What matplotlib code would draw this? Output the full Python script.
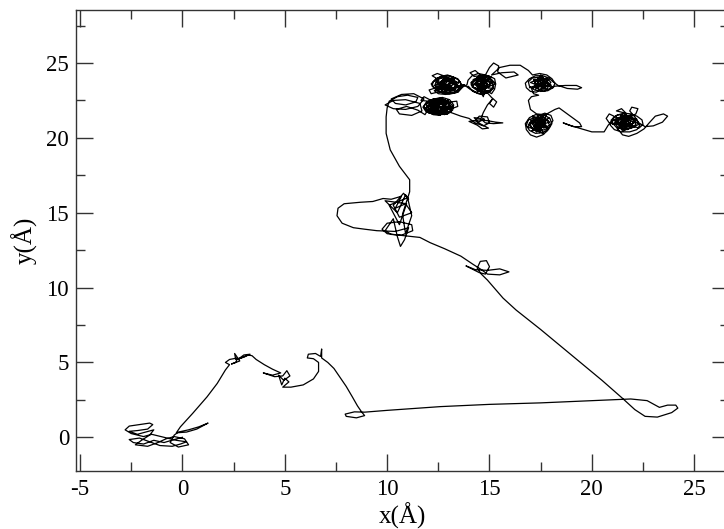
import matplotlib
matplotlib.use('Agg')
import matplotlib.pyplot as plt
from matplotlib.ticker import MultipleLocator

plt.rcParams['font.family'] = ['Liberation Serif', 'DejaVu Serif']
plt.rcParams['axes.unicode_minus'] = False

# ---- trajectory (x, y in Angstrom) ----
start_cluster = [(0.0, 0.0), (-0.4, -0.15), (-0.9, -0.35), (-1.4, -0.2), (-1.9, -0.45), (-2.4, -0.35),
                 (-2.6, -0.15), (-2.1, -0.05), (-1.6, -0.3), (-1.1, -0.55), (-0.5, -0.6), (-0.1, -0.45),
                 (0.2, -0.3), (-0.3, -0.2), (-0.9, 0.0), (-1.5, 0.2), (-1.9, 0.05), (-2.5, 0.25),
                 (-2.8, 0.5), (-2.6, 0.75), (-2.1, 0.85), (-1.6, 0.95), (-1.45, 0.85), (-1.7, 0.55),
                 (-2.2, 0.45), (-2.6, 0.4), (-2.2, 0.2), (-1.8, 0.35), (-1.4, 0.5), (-1.6, 0.15),
                 (-2.0, -0.2), (-2.3, -0.5), (-1.7, -0.6), (-1.2, -0.35), (-0.8, -0.1), (-0.4, 0.05),
                 (0.1, -0.1), (0.3, -0.5), (-0.2, -0.65), (-0.6, -0.35), (-0.4, 0.15), (-0.2, 0.35),
                 (0.3, 0.5), (0.8, 0.7), (1.25, 0.95), (0.7, 0.55), (0.2, 0.35), (-0.3, 0.3), (-0.1, 0.7)]

rise_to_peak = [(0.5, 1.6), (1.2, 2.7), (1.7, 3.6), (2.1, 4.5), (2.3, 4.85)]

peak_cluster = [(2.1, 5.0), (2.3, 5.2), (2.7, 5.3), (2.6, 5.0), (2.4, 4.9), (2.8, 5.1), (2.55, 5.6),
                (2.6, 5.2), (3.0, 5.35), (3.3, 5.55), (3.0, 5.5), (2.7, 5.2), (3.2, 5.5), (3.4, 5.45),
                (3.6, 5.2), (4.0, 4.85), (4.4, 4.55), (4.8, 4.3)]

mid_cluster = [(4.4, 4.15), (3.95, 4.3), (4.5, 4.05), (4.9, 4.1), (5.1, 4.45), (5.25, 4.1), (4.95, 3.8),
               (4.7, 4.15), (4.85, 3.5), (5.0, 3.95), (5.2, 3.7), (4.9, 3.35), (5.3, 3.35), (5.9, 3.5),
               (6.4, 3.9), (6.65, 4.4), (6.65, 5.0), (6.4, 5.25), (6.1, 5.3), (6.15, 5.55), (6.5, 5.6),
               (6.75, 5.4), (6.8, 5.9), (6.8, 5.3), (7.1, 5.0), (7.4, 4.6), (7.7, 4.0), (8.0, 3.4),
               (8.3, 2.7), (8.55, 2.1), (8.75, 1.7), (8.9, 1.45), (8.5, 1.3), (8.0, 1.4), (7.95, 1.55),
               (8.4, 1.7), (8.9, 1.68)]

long_run = [(10.0, 1.8), (12.6, 2.05), (15.0, 2.2), (17.5, 2.3), (20.0, 2.45), (21.9, 2.56), (22.7, 2.45),
            (23.3, 2.0), (23.7, 2.15), (24.1, 2.15), (24.2, 1.95), (23.9, 1.65), (23.2, 1.35), (22.6, 1.4),
            (22.1, 1.85), (21.5, 2.6), (20.5, 3.8), (19.0, 5.5), (17.5, 7.2), (16.3, 8.5), (15.66, 9.3),
            (14.9, 10.5)]

cluster_11 = [(14.6, 10.9), (14.4, 11.3), (14.55, 11.75), (14.85, 11.8), (15.0, 11.4), (14.8, 10.9),
              (14.5, 11.0), (13.85, 11.45), (14.3, 11.2), (14.9, 11.15), (15.5, 11.25), (15.95, 11.05),
              (15.5, 10.85), (14.9, 10.9), (14.6, 11.2), (14.2, 11.55), (13.6, 12.1), (12.8, 12.6),
              (12.1, 13.0), (11.6, 13.35), (10.6, 13.5)]

cluster_14 = [(10.0, 13.6), (9.75, 13.9), (10.0, 14.3), (10.6, 14.4), (11.2, 14.2), (11.25, 13.8),
              (10.7, 13.5), (10.2, 13.55), (9.9, 13.8), (10.3, 14.6), (10.5, 13.4), (10.65, 12.75),
              (10.85, 13.2), (11.05, 14.0), (10.4, 13.75), (9.5, 13.8), (8.9, 13.9), (8.35, 14.0),
              (7.8, 14.3), (7.55, 14.8), (7.6, 15.3), (7.9, 15.6), (8.7, 15.7), (9.3, 15.75), (9.8, 15.95),
              (10.2, 15.9), (10.7, 16.1), (10.4, 15.3), (10.9, 15.6), (11.2, 15.0), (10.6, 14.7),
              (10.3, 15.5), (10.8, 16.3), (11.05, 15.9), (10.9, 16.2), (10.5, 15.0), (9.9, 15.8),
              (10.95, 15.6), (10.6, 14.2), (10.1, 15.5), (11.0, 16.0), (11.2, 14.8), (10.9, 13.6),
              (10.75, 14.9), (11.1, 16.4)]

climb = [(11.1, 17.2), (10.6, 18.1), (10.15, 19.2), (9.95, 20.3), (9.95, 21.4), (10.0, 22.0)]

left_top = [(10.1, 22.45), (10.5, 22.75), (11.0, 22.85), (11.5, 22.7), (11.4, 22.4), (10.9, 22.2),
            (10.4, 22.3), (10.2, 22.6), (10.7, 22.9), (11.3, 22.95), (11.8, 22.6), (11.5, 22.1),
            (10.9, 21.9), (10.3, 21.95), (9.9, 22.2), (10.3, 22.5), (10.9, 22.55), (11.6, 22.3),
            (11.7, 21.8), (11.2, 21.5), (10.6, 21.6), (10.45, 21.9), (10.95, 22.1), (11.5, 21.85),
            (11.85, 21.55), (12.0, 21.9)]

cluster_a = [(12.2, 21.7), (12.5, 21.6), (12.8, 21.7), (13.0, 21.9), (13.05, 22.2), (12.85, 22.45),
             (12.55, 22.5), (12.3, 22.35), (12.2, 22.1), (12.35, 21.85), (12.65, 21.8), (12.9, 22.0),
             (12.75, 22.3), (12.45, 22.25), (12.4, 21.95), (12.6, 21.65), (12.95, 21.6), (13.2, 21.85),
             (13.25, 22.2), (13.05, 22.55), (12.7, 22.7), (12.3, 22.6), (11.95, 22.4), (11.8, 22.1),
             (11.95, 21.8), (12.25, 21.55), (12.6, 21.5), (12.45, 21.75), (12.15, 21.95), (12.1, 22.3),
             (12.4, 22.5), (12.8, 22.55), (13.1, 22.35), (12.95, 22.1), (12.6, 22.05), (12.3, 22.2),
             (12.0, 22.15), (11.85, 21.9), (12.05, 21.65), (12.4, 21.65), (12.75, 21.9), (12.85, 22.25),
             (12.6, 22.4), (12.2, 22.45), (11.9, 22.25), (12.0, 21.95), (12.3, 21.75), (12.7, 21.6),
             (13.05, 21.75), (13.15, 22.05), (12.9, 22.35), (12.5, 22.6), (12.15, 22.55), (12.35, 22.05),
             (12.55, 21.85), (12.8, 21.8), (12.95, 21.6), (12.6, 21.55), (12.2, 21.6), (11.9, 21.75),
             (11.75, 22.05), (11.9, 22.35), (12.25, 22.6), (12.65, 22.65), (12.95, 22.45), (13.2, 22.15),
             (13.1, 21.8), (12.8, 21.55), (12.45, 21.7), (12.25, 22.0), (12.5, 22.35), (12.8, 22.15),
             (12.65, 21.95), (12.4, 22.15), (12.7, 22.5), (13.0, 22.3), (13.1, 22.0), (13.1, 21.7)]

cluster_a_fill = [(12.6, 21.95), (12.95, 22.4), (12.3, 22.1), (12.75, 21.6), (12.1, 21.85), (12.5, 22.45),
                  (12.0, 22.2), (12.85, 22.0), (12.4, 21.7), (12.2, 22.35), (12.9, 22.25), (12.55, 21.75),
                  (11.95, 22.05), (12.65, 22.3), (13.05, 21.9), (13.45, 22.1), (13.4, 22.45), (13.1, 22.4),
                  (12.35, 21.9), (12.7, 22.6), (12.15, 22.5), (11.8, 22.75), (11.65, 22.5), (12.0, 22.45),
                  (12.45, 22.0), (13.15, 22.1), (12.6, 21.6), (12.0, 21.7), (12.3, 22.25), (12.8, 22.45),
                  (12.9, 21.75), (12.25, 21.65), (12.05, 22.35), (12.55, 22.2), (13.0, 22.55), (12.75, 21.85),
                  (12.4, 22.4), (11.85, 21.95), (12.5, 21.55), (13.1, 21.7)]

cluster_d = [(13.6, 21.45), (14.0, 21.3), (14.3, 21.0), (14.7, 20.8), (15.0, 21.0), (14.9, 21.4),
             (14.5, 21.45), (14.3, 21.15), (14.6, 20.9), (14.95, 20.65), (14.65, 20.6), (14.4, 20.85),
             (14.0, 21.1), (14.5, 21.2), (14.9, 21.15), (15.3, 21.05), (15.65, 21.0), (15.2, 20.95),
             (14.8, 21.0), (14.55, 21.3), (14.25, 21.35), (14.45, 21.05), (14.75, 21.25), (14.6, 21.35),
             (14.7, 21.7), (14.9, 22.2), (15.15, 22.6), (15.0, 22.3), (15.2, 22.05), (15.35, 22.4),
             (15.1, 22.7), (14.9, 23.0)]

cluster_c1 = [(14.6, 22.9), (14.2, 23.1), (13.95, 23.45), (14.15, 23.15), (14.45, 22.95), (14.75, 22.95),
              (15.05, 23.1), (15.2, 23.4), (15.15, 23.75), (14.9, 24.0), (14.6, 24.1), (14.3, 23.95),
              (14.1, 23.7), (14.2, 23.4), (14.45, 23.25), (14.75, 23.3), (14.9, 23.55), (14.75, 23.8),
              (14.45, 23.75), (14.35, 23.5), (14.55, 23.35), (14.85, 23.15), (15.1, 22.95), (15.25, 23.25),
              (15.3, 23.6), (15.1, 23.9), (14.8, 24.2), (14.45, 24.3), (14.15, 24.15), (13.95, 23.85),
              (13.9, 23.55), (13.7, 23.4)]

cluster_b = [(13.45, 23.05), (13.05, 22.95), (12.7, 23.0), (12.4, 23.2), (12.2, 23.45), (12.25, 23.75),
             (12.5, 24.0), (12.8, 24.15), (13.15, 24.1), (13.45, 23.95), (13.6, 23.65), (13.55, 23.35),
             (13.35, 23.1), (13.05, 23.2), (12.75, 23.35), (12.55, 23.55), (12.65, 23.8), (12.9, 23.9),
             (13.1, 23.75), (12.95, 23.5), (12.7, 23.35), (12.4, 23.3), (12.35, 23.6), (12.55, 23.95),
             (12.9, 24.05), (13.2, 23.95), (13.4, 23.7), (13.3, 23.4), (13.05, 23.2), (12.75, 23.25),
             (12.6, 23.05), (12.9, 23.0), (13.25, 23.0), (13.5, 23.2), (13.65, 23.5), (13.5, 23.85),
             (13.25, 24.05), (12.95, 24.2), (12.6, 24.1), (12.35, 23.9), (12.15, 23.6), (12.3, 23.35),
             (12.55, 23.4), (12.8, 23.6), (13.05, 23.45), (13.15, 23.15), (12.85, 23.25), (12.65, 23.5),
             (12.85, 23.85), (13.2, 23.85), (13.4, 23.55), (13.3, 23.25), (13.0, 23.35), (12.8, 23.45),
             (12.45, 23.65), (12.4, 23.95), (12.7, 24.05), (13.0, 23.95), (13.3, 23.7), (13.45, 23.4),
             (13.2, 23.15), (12.9, 23.15), (12.6, 23.3), (12.3, 23.15), (12.5, 22.95), (12.85, 22.9),
             (13.15, 22.95), (13.45, 23.05), (13.6, 23.3), (13.75, 23.55)]

cluster_b_fill = [(13.1, 23.3), (12.6, 23.7), (13.3, 23.95), (12.8, 23.2), (12.3, 23.5), (12.95, 23.8),
                  (13.5, 23.45), (12.7, 23.05), (12.5, 23.9), (12.2, 24.15), (12.45, 24.3), (12.75, 24.15),
                  (13.2, 23.6), (12.85, 24.1), (12.4, 23.35), (12.05, 23.2), (12.15, 22.95), (12.45, 23.05),
                  (13.05, 23.05), (13.55, 23.75), (12.75, 23.5), (12.35, 23.75), (13.0, 23.55), (13.35, 23.2),
                  (12.6, 23.35), (13.15, 24.0), (12.9, 23.35), (12.45, 23.15), (12.7, 23.85), (13.4, 23.7),
                  (13.1, 23.45), (12.55, 23.6), (12.95, 24.0), (13.45, 23.35), (13.75, 23.55)]

cluster_c2 = [(14.05, 23.25), (14.35, 23.05), (14.65, 23.15), (14.6, 23.45), (14.3, 23.6), (14.45, 23.9),
              (14.8, 23.95), (15.05, 23.65), (14.95, 23.35), (14.65, 23.6), (14.9, 23.8), (15.2, 23.55),
              (15.1, 23.2), (14.8, 23.05), (14.5, 23.1), (14.25, 23.3), (14.1, 23.55), (14.3, 23.85),
              (14.65, 24.0), (14.95, 24.15), (15.25, 23.95), (15.3, 23.6), (15.0, 23.45), (14.7, 23.4),
              (14.45, 23.5), (14.6, 23.75), (14.85, 23.65), (14.7, 22.75), (14.5, 23.2), (14.75, 23.5),
              (14.55, 24.2), (14.3, 24.5), (14.05, 24.35), (14.25, 24.1), (14.8, 24.2), (14.3, 23.7),
              (14.95, 23.4), (14.4, 23.15), (15.15, 23.7), (14.55, 24.0), (14.15, 23.4), (14.8, 23.1),
              (14.65, 23.85), (14.2, 23.9), (15.0, 23.9), (14.45, 23.4), (15.2, 23.3), (14.6, 22.95),
              (14.35, 23.55), (14.9, 23.65), (14.5, 24.15), (14.1, 23.65), (14.85, 23.3), (14.55, 23.6),
              (15.1, 24.05), (14.8, 24.2)]

top_loop = [(15.0, 24.7), (15.2, 25.0), (15.45, 24.8), (15.4, 24.4), (15.8, 24.0), (16.4, 24.2),
            (16.2, 24.4), (15.6, 24.35), (15.1, 24.2), (15.5, 24.7), (16.0, 24.85), (16.5, 24.85),
            (16.9, 24.5), (17.1, 24.2)]

cluster_e = [(17.45, 24.3), (17.8, 24.2), (18.05, 23.95), (18.2, 23.65), (18.1, 23.35), (17.85, 23.15),
             (17.5, 23.1), (17.2, 23.2), (16.95, 23.45), (16.9, 23.75), (17.1, 24.0), (17.4, 24.05),
             (17.65, 23.9), (17.75, 23.6), (17.55, 23.4), (17.3, 23.45), (17.2, 23.7), (17.4, 23.85),
             (17.7, 23.75), (17.9, 23.5), (17.8, 23.25), (17.5, 23.25), (17.3, 23.05), (17.0, 23.1),
             (16.8, 23.35), (16.75, 23.65), (16.95, 23.95), (17.25, 24.15), (17.6, 24.15), (17.9, 24.0),
             (18.1, 23.75), (18.35, 23.5), (18.8, 23.3), (19.3, 23.25), (19.5, 23.35), (19.25, 23.5),
             (18.7, 23.5), (18.2, 23.45), (17.95, 23.3), (17.65, 23.1), (17.35, 23.3), (17.45, 23.6),
             (17.75, 23.45), (18.0, 23.7), (17.8, 24.0), (17.5, 23.85), (17.25, 23.55)]

cluster_e_fill = [(17.85, 23.8), (17.1, 23.3), (17.6, 24.05), (17.0, 23.7), (17.75, 23.3), (17.35, 24.0),
                  (18.0, 23.55), (17.4, 23.2), (17.15, 23.9), (17.9, 23.9), (17.55, 23.45), (16.95, 23.35),
                  (17.7, 23.7), (17.25, 23.25), (17.5, 24.2), (18.1, 23.35), (17.45, 23.65), (17.05, 23.3),
                  (17.15, 22.95), (17.4, 22.85), (17.05, 22.75), (16.9, 22.5), (16.95, 22.2), (17.0, 21.9)]

cluster_f = [(17.3, 21.6), (17.65, 21.55), (17.95, 21.3), (18.05, 20.95), (17.9, 20.6), (17.6, 20.35),
             (17.25, 20.3), (16.95, 20.5), (16.8, 20.85), (16.9, 21.2), (17.2, 21.35), (17.5, 21.3),
             (17.7, 21.05), (17.6, 20.75), (17.3, 20.65), (17.1, 20.9), (17.25, 21.15), (17.55, 21.1),
             (17.75, 20.85), (17.85, 20.5), (17.6, 20.2), (17.3, 20.05), (17.0, 20.2), (16.8, 20.55),
             (16.75, 20.95), (16.95, 21.35), (17.25, 21.55), (17.6, 21.45), (17.85, 21.15), (17.95, 20.75),
             (17.7, 20.55), (17.4, 20.45), (17.1, 20.6), (16.95, 21.0), (17.15, 21.25), (17.45, 21.2),
             (17.6, 20.9), (17.4, 20.8), (17.2, 21.05), (17.35, 21.45), (17.7, 21.65), (18.0, 21.5),
             (18.1, 21.15), (17.95, 20.85), (17.65, 20.65), (17.35, 20.9), (17.5, 21.35), (17.8, 21.6)]

cluster_f_fill = [(17.2, 21.1), (17.75, 20.8), (17.05, 20.45), (17.5, 20.9), (17.9, 21.35), (17.3, 20.4),
                  (16.9, 20.9), (17.6, 21.45), (17.4, 20.6), (17.0, 21.2), (17.85, 20.65), (17.3, 21.3),
                  (17.65, 20.25), (17.15, 20.75), (17.95, 21.05), (17.45, 21.5), (16.85, 20.7), (17.55, 20.55),
                  (17.25, 20.95), (17.7, 21.2), (17.1, 21.45), (17.45, 20.35), (17.8, 21.6), (18.2, 21.9),
                  (18.4, 22.0), (18.9, 21.5), (19.4, 21.0), (19.5, 20.75), (19.1, 20.75), (18.6, 21.0),
                  (18.9, 20.85), (19.5, 20.6), (20.0, 20.4), (20.6, 20.4)]

cluster_g = [(20.8, 20.85), (21.05, 21.2), (21.4, 21.4), (21.75, 21.4), (22.05, 21.2), (22.15, 20.9),
             (21.95, 20.65), (21.6, 20.55), (21.3, 20.65), (21.15, 20.95), (21.35, 21.2), (21.65, 21.25),
             (21.85, 21.0), (21.7, 20.8), (21.45, 20.85), (21.4, 21.1), (21.6, 21.3), (21.95, 21.35),
             (22.2, 21.15), (22.35, 20.85), (22.2, 20.55), (21.85, 20.4), (21.45, 20.4), (21.1, 20.55),
             (20.9, 20.85), (20.95, 21.2), (21.2, 21.5), (21.55, 21.65), (21.9, 21.6), (22.2, 21.45),
             (22.45, 21.2), (22.5, 20.9), (22.3, 20.65), (22.0, 20.8), (21.75, 21.1), (21.5, 21.0),
             (21.3, 20.8), (21.55, 20.6), (21.8, 20.75), (21.9, 21.15), (21.65, 21.5), (21.3, 21.55),
             (21.05, 21.35), (21.0, 21.0), (21.2, 20.7), (21.5, 20.2), (21.8, 20.1), (22.2, 20.3),
             (22.55, 20.6), (22.8, 21.0), (23.1, 21.45), (23.5, 21.6), (23.7, 21.45), (23.45, 21.05),
             (23.0, 20.8), (22.6, 20.75), (22.3, 21.0), (22.1, 21.4), (21.85, 21.8), (21.95, 22.05),
             (22.25, 21.95), (22.15, 21.6), (21.75, 21.3), (21.4, 21.25), (21.15, 21.4), (20.85, 21.6),
             (20.7, 21.3), (20.85, 21.0), (21.25, 20.9), (21.6, 20.95), (21.9, 20.9), (22.05, 21.05),
             (21.8, 21.2), (21.5, 21.05)]

cluster_g_fill = [(22.1, 20.7), (21.3, 20.95), (21.9, 21.45), (21.1, 21.15), (21.75, 20.55), (22.2, 21.25),
                  (21.4, 21.55), (21.6, 20.7), (22.05, 21.0), (21.25, 20.6), (21.85, 21.25), (21.0, 20.9),
                  (21.7, 21.6), (21.45, 21.95), (21.2, 21.8), (21.5, 21.7), (22.3, 20.9), (21.5, 20.45),
                  (21.2, 21.3), (22.0, 21.55), (21.65, 20.95), (21.35, 20.75), (21.95, 20.85), (21.55, 21.4)]

segments = [start_cluster, rise_to_peak, peak_cluster, mid_cluster, long_run, cluster_11, cluster_14,
            climb, left_top, cluster_a, cluster_a_fill, cluster_d, cluster_c1, cluster_b, cluster_b_fill,
            cluster_c2, top_loop, cluster_e, cluster_e_fill, cluster_f, cluster_f_fill, cluster_g,
            cluster_g_fill]

xs = [p[0] for seg in segments for p in seg]
ys = [p[1] for seg in segments for p in seg]

x_ticks = [-5, 0, 5, 10, 15, 20, 25]
y_ticks = [0, 5, 10, 15, 20, 25]

fig = plt.figure(figsize=(7.24, 5.29), dpi=100)
ax = fig.add_axes([76 / 724, (529 - 470.7) / 529, (729 - 76) / 724, (470.7 - 10) / 529])
ax.plot(xs, ys, color='black', lw=0.9, solid_joinstyle='round')

ax.set_xlim(-5.2, 26.7)
ax.set_ylim(-2.23, 28.54)
ax.set_xticks(x_ticks)
ax.set_yticks(y_ticks)
ax.xaxis.set_minor_locator(MultipleLocator(2.5))
ax.yaxis.set_minor_locator(MultipleLocator(2.5))
ax.tick_params(which='both', direction='in', top=True, right=True, color='#333333', width=1.0)
ax.tick_params(which='major', length=12.5, labelsize=16.5, pad=6)
ax.tick_params(which='minor', length=6.5)
ax.tick_params(axis='y', which='major', pad=5)
for s in ax.spines.values():
    s.set_linewidth(1.0)
    s.set_color('#333333')

ax.set_xlabel('x(Å)', fontsize=18, labelpad=2)
ax.set_ylabel('y(Å)', fontsize=18, labelpad=6)

fig.savefig('out.png', dpi=100)
